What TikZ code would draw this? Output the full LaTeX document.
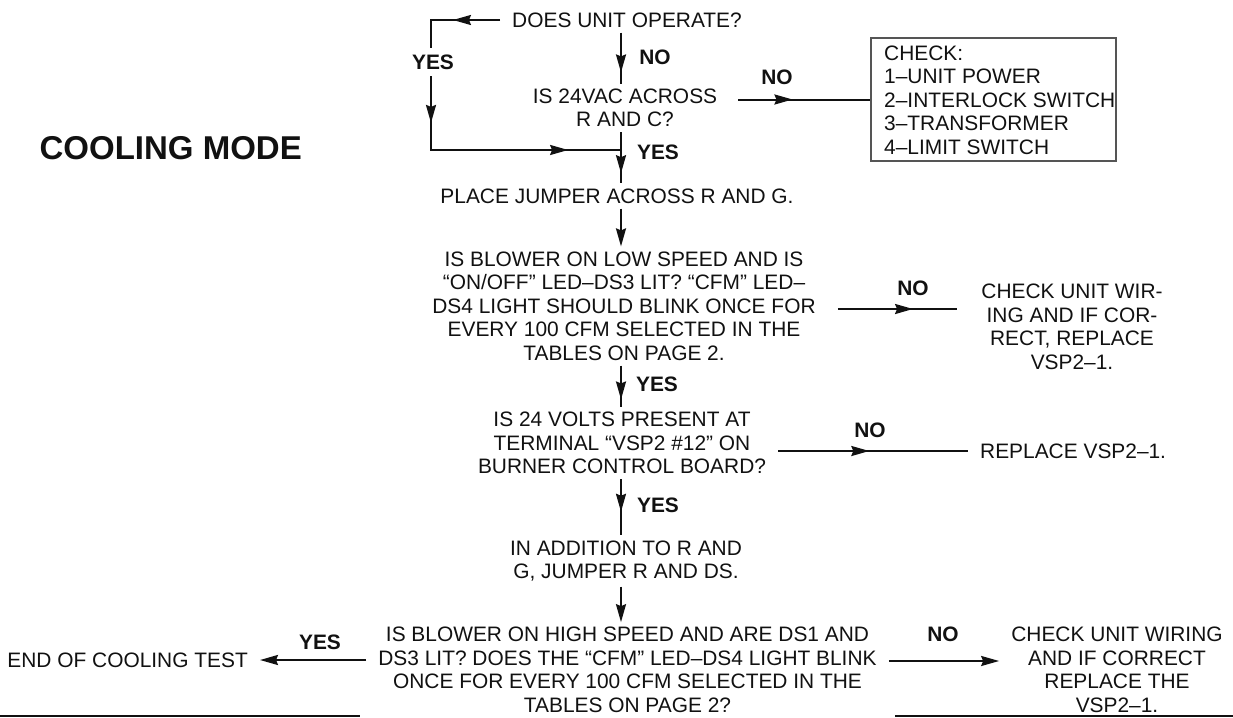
\documentclass[tikz,border=0pt]{standalone}
\usepackage{fontspec}
\setmainfont{Liberation Sans}
\usetikzlibrary{arrows.meta,positioning,fit,decorations.markings}
\definecolor{cmInk}{HTML}{111111}
\definecolor{cmFrame}{HTML}{555555}
\newcommand{\bodyfont}{\fontsize{20.9}{23.5}\selectfont}
\tikzset{
  >={Stealth[length=18pt,width=10pt,inset=2pt]},
  txt/.style={align=center, font=\bodyfont, text=cmInk, inner xsep=12pt, inner ysep=5pt},
  ans/.style={font=\bodyfont\bfseries, text=cmInk, inner sep=2pt},
  headline/.style={font=\fontsize{33}{38}\selectfont\bfseries, text=cmInk, inner sep=0pt},
  chkframe/.style={draw=cmFrame, line width=1.3pt, inner sep=0pt},
  flow/.style={draw=cmInk, line width=2pt},
  marr/.style={postaction={decorate,decoration={markings,
      mark=at position #1 with {\arrow{>}}}}},
  rule/.style={draw=cmInk, line width=1.5pt},
}

\begin{document}
\begin{tikzpicture}[x=1pt,y=-1pt]
  \useasboundingbox (0,0) rectangle (1233,717);
  \coordinate (ax) at (621,0);
  \coordinate (lp) at (431,150);
  \node[headline,anchor=east] (mode) at (302,148){COOLING MODE};
  % main column
  \node[txt] (unit) at (627,20){DOES UNIT OPERATE?};
  \node[txt] (vac) at (625,108){IS 24VAC ACROSS\\R AND C?};
  \node[txt] (jump) at (617,196){PLACE JUMPER ACROSS R AND G.};
  \node[txt] (low) at (624,306){IS BLOWER ON LOW SPEED AND IS\\“ON/OFF” LED–DS3 LIT? “CFM” LED–\\DS4 LIGHT SHOULD BLINK ONCE FOR\\EVERY 100 CFM SELECTED IN THE\\TABLES ON PAGE 2.};
  \node[txt] (volts) at (622,443){IS 24 VOLTS PRESENT AT\\TERMINAL “VSP2 \#12” ON\\BURNER CONTROL BOARD?};
  \node[txt] (addn) at (626,561){IN ADDITION TO R AND\\G, JUMPER R AND DS.};
  \node[txt] (high) at (627.5,670){IS BLOWER ON HIGH SPEED AND ARE DS1 AND\\DS3 LIT? DOES THE “CFM” LED–DS4 LIGHT BLINK\\ONCE FOR EVERY 100 CFM SELECTED IN THE\\TABLES ON PAGE 2?};
  % outcomes
  \node[chkframe,fit={(871,38) (1116,161)}] (chkbox){};
  \node[txt,align=left,anchor=west,inner xsep=0pt] (chk) at (884,100){CHECK:\\1–UNIT POWER\\2–INTERLOCK SWITCH\\3–TRANSFORMER\\4–LIMIT SWITCH};
  \node[txt] (wir) at (1072,327){CHECK UNIT WIR-\\ING AND IF COR-\\RECT, REPLACE\\VSP2–1.};
  \node[txt,anchor=west] (repl) at (968,451){REPLACE VSP2–1.};
  \node[txt,anchor=east] (done) at (260,660){END OF COOLING TEST};
  \node[txt] (wir2) at (1117,670){CHECK UNIT WIRING\\AND IF CORRECT\\REPLACE THE\\VSP2–1.};

  % yes loop round the 24VAC test
  \draw[flow,marr=0.121,marr=0.442,marr=0.864] (unit.west) -| (lp) -- (lp -| ax);
  \node[ans,fill=white,inner ysep=7pt] (yloop) at (433,62){YES};
  % down the column
  \draw[flow,marr=0.78] (unit.south -| ax) -- (vac.north -| ax);
  \draw[flow,marr=0.8] (vac.south -| ax) -- (jump.north -| ax);
  \draw[flow,->] (jump.south -| ax) -- (low.north -| ax);
  \draw[flow,marr=0.82] (low.south -| ax) -- (volts.north -| ax);
  \draw[flow,marr=0.58] (volts.south -| ax) -- (addn.north -| ax);
  \draw[flow,->] (addn.south -| ax) -- (high.north -| ax);
  % side branches
  \draw[flow,marr=0.41] ([xshift=9pt]vac.east |- chkbox.west) -- (chkbox.west);
  \draw[flow,marr=0.63] ([xshift=10pt,yshift=-3pt]low.east) -- ([xshift=-12pt,yshift=-3pt]low.east -| wir.west);
  \draw[flow,marr=0.48] (volts.east |- repl.west) -- (repl.west);
  \draw[flow,->] (high.west |- done.east) -- (done.east);
  \draw[flow,->] ([yshift=9pt]high.east) -- ([yshift=9pt]high.east -| wir2.west);

  \foreach \t/\x/\y in {NO/655/57,NO/777/77,YES/658/152,YES/657/384,NO/913/288,
                        NO/870/430,YES/658/505,YES/320/642,NO/943/634}
    \node[ans] (ans-\x-\y) at (\x,\y){\t};
  % page rules
  \foreach \a/\b in {0/360,895/1233}
    \draw[rule] (\a,716) -- (\b,716);
\end{tikzpicture}
\end{document}
